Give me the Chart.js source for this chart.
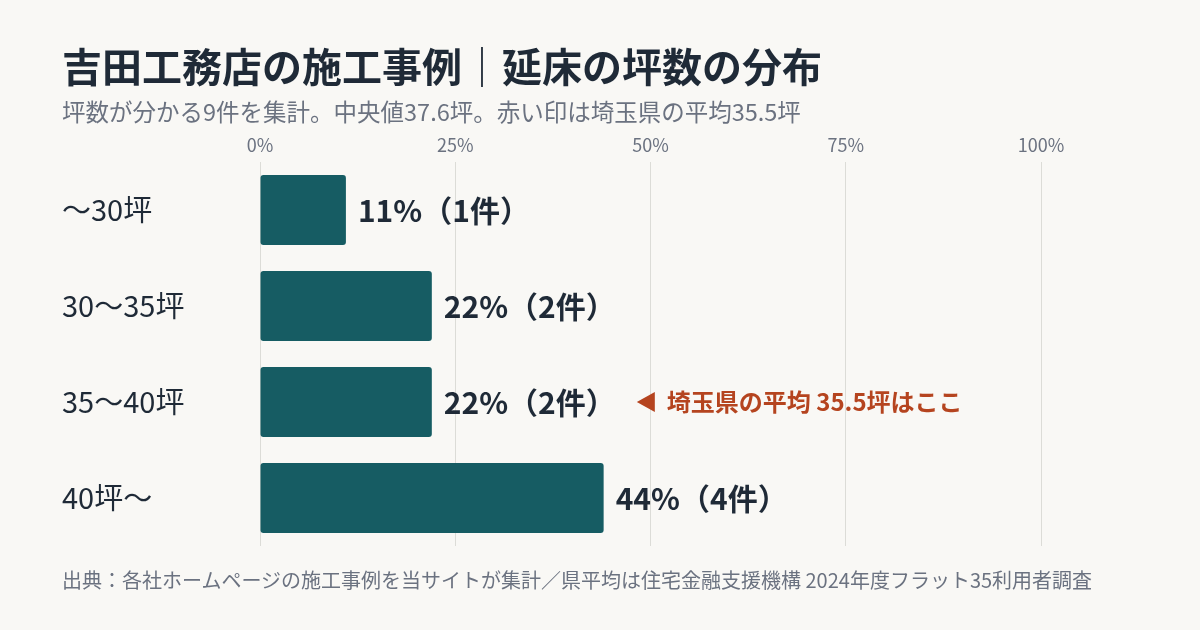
<!DOCTYPE html>
<html lang="ja">
<head>
<meta charset="utf-8">
<script src="https://cdn.jsdelivr.net/npm/chart.js@4"></script>
<style>
  html, body { margin: 0; padding: 0; background: #f9f8f5; }
  body { width: 1200px; height: 630px; position: relative; overflow: hidden;
         font-family: "Noto Sans CJK JP", "Noto Sans", sans-serif; }
  #title, #sub, #foot { position: absolute; left: 62px; line-height: 1; white-space: nowrap; }
  #title { top: 45px; font-size: 40px; font-weight: 700; color: #1f2a37; }
  #sub { top: 100px; font-size: 23.5px; color: #6b7280; }
  #foot { top: 570px; font-size: 20px; color: #6b7280; }
  #wrap { position: absolute; left: 0; top: 0; width: 1200px; height: 630px; }
</style>
</head>
<body>
<div id="wrap"><canvas id="myChart"></canvas></div>
<div id="title">吉田工務店の施工事例｜延床の坪数の分布</div>
<div id="sub">坪数が分かる9件を集計。中央値37.6坪。赤い印は埼玉県の平均35.5坪</div>
<div id="foot">出典：各社ホームページの施工事例を当サイトが集計／県平均は住宅金融支援機構 2024年度フラット35利用者調査</div>
<script>
var categories = ['〜30坪', '30〜35坪', '35〜40坪', '40坪〜'];
var shares = [11, 22, 22, 44];
var counts = [1, 2, 2, 4];
var xTicks = [0, 25, 50, 75, 100];
var avgRow = 2;
var avgNote = '埼玉県の平均 35.5坪はここ';

var fontJP = '"Noto Sans CJK JP", "Noto Sans", sans-serif';

// ラベルと県平均の印
var barLabels = {
    id: 'barLabels',
    afterDatasetsDraw: function (chart) {
        var c = chart.ctx;
        var meta = chart.getDatasetMeta(0);
        c.save();
        c.textBaseline = 'middle';
        meta.data.forEach(function (bar, i) {
            var txt = shares[i] + '%（' + counts[i] + '件）';
            c.font = '700 30px ' + fontJP;
            c.fillStyle = '#1f2a37';
            c.textAlign = 'left';
            var x = bar.x + 12;
            c.fillText(txt, x, bar.y + 1);
            if (i === avgRow) {
                var ax = x + c.measureText(txt).width + 21;
                c.fillStyle = '#b5441f';
                c.beginPath();
                c.moveTo(ax, bar.y);
                c.lineTo(ax + 18, bar.y - 10);
                c.lineTo(ax + 18, bar.y + 10);
                c.closePath();
                c.fill();
                c.font = '700 24px ' + fontJP;
                c.fillText(avgNote, ax + 30, bar.y);
            }
        });
        c.restore();
    }
};

var ctx = document.getElementById('myChart').getContext('2d');
var myChart = new Chart(ctx, {
    type: 'bar',
    data: {
        labels: categories,
        datasets: [{
            data: shares,
            backgroundColor: '#165c63',
            borderRadius: 3,
            borderSkipped: false,
            categoryPercentage: 1,
            barPercentage: 0.73
        }]
    },
    options: {
        indexAxis: 'y',
        responsive: true,
        maintainAspectRatio: false,
        animation: false,
        layout: { padding: { left: 62, right: 159, top: 134, bottom: 84 } },
        plugins: { legend: { display: false }, tooltip: { enabled: false } },
        scales: {
            x: {
                position: 'top',
                min: 0,
                max: 100,
                afterBuildTicks: function (s) { s.ticks = xTicks.map(function (v) { return { value: v }; }); },
                afterFit: function (s) { s.height = 28; },
                grid: { color: '#dcdcd7', drawTicks: false, lineWidth: 1 },
                border: { display: false },
                ticks: {
                    padding: 6,
                    color: '#6b7280',
                    font: { family: fontJP, size: 18 },
                    callback: function (v) { return v + '%'; }
                }
            },
            y: {
                afterFit: function (s) { s.width = 198; },
                grid: { display: false },
                border: { display: false },
                ticks: {
                    crossAlign: 'far',
                    color: '#1f2a37',
                    font: { family: fontJP, size: 29 }
                }
            }
        }
    },
    plugins: [barLabels]
});
</script>
</body>
</html>
